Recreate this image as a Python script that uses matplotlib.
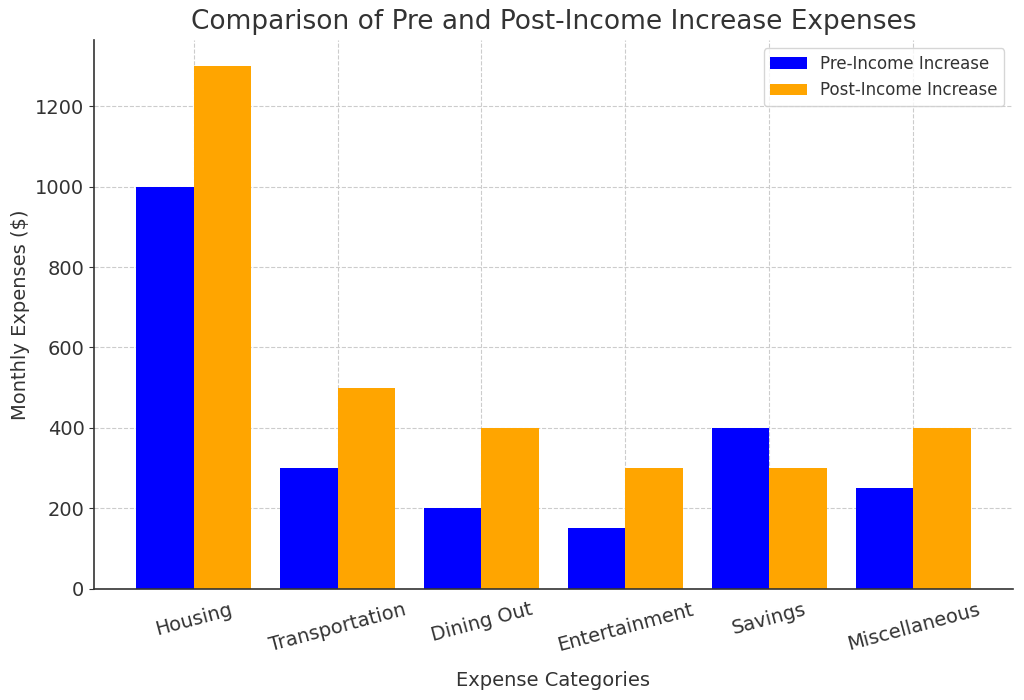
import matplotlib.pyplot as plt
import numpy as np

categories = ["Housing", "Transportation", "Dining Out", "Entertainment", "Savings", "Miscellaneous"]
pre_income = [1000, 300, 200, 150, 400, 250]
post_income = [1300, 500, 400, 300, 300, 400]

TEXT = "#333333"

fig, ax = plt.subplots(figsize=(10.24, 7), dpi=100)
fig.subplots_adjust(left=0.092, right=0.989, top=0.943, bottom=0.159)

x = np.arange(len(categories))
w = 0.4
ax.bar(x - w / 2, pre_income, w, color="blue", label="Pre-Income Increase")
ax.bar(x + w / 2, post_income, w, color="orange", label="Post-Income Increase")

ax.grid(True, linestyle="--", color="#cccccc", linewidth=0.8)
ax.set_axisbelow(True)

for side in ["top", "right"]:
    ax.spines[side].set_visible(False)
for side in ["left", "bottom"]:
    ax.spines[side].set_color(TEXT)
    ax.spines[side].set_linewidth(1.2)

ax.set_xticks(x)
ax.set_xticklabels(categories, rotation=15)
ax.tick_params(axis="x", length=0, labelsize=14, colors=TEXT, pad=8)
ax.tick_params(axis="y", labelsize=14, colors=TEXT)

ax.set_xlabel("Expense Categories", fontsize=14, color=TEXT, labelpad=12)
ax.set_ylabel("Monthly Expenses ($)", fontsize=14, color=TEXT)
ax.set_title("Comparison of Pre and Post-Income Increase Expenses", fontsize=19, color=TEXT, pad=8)

leg = ax.legend(fontsize=12, loc="upper right", labelcolor=TEXT, handlelength=2.2)

fig.savefig("out.png", dpi=100)
